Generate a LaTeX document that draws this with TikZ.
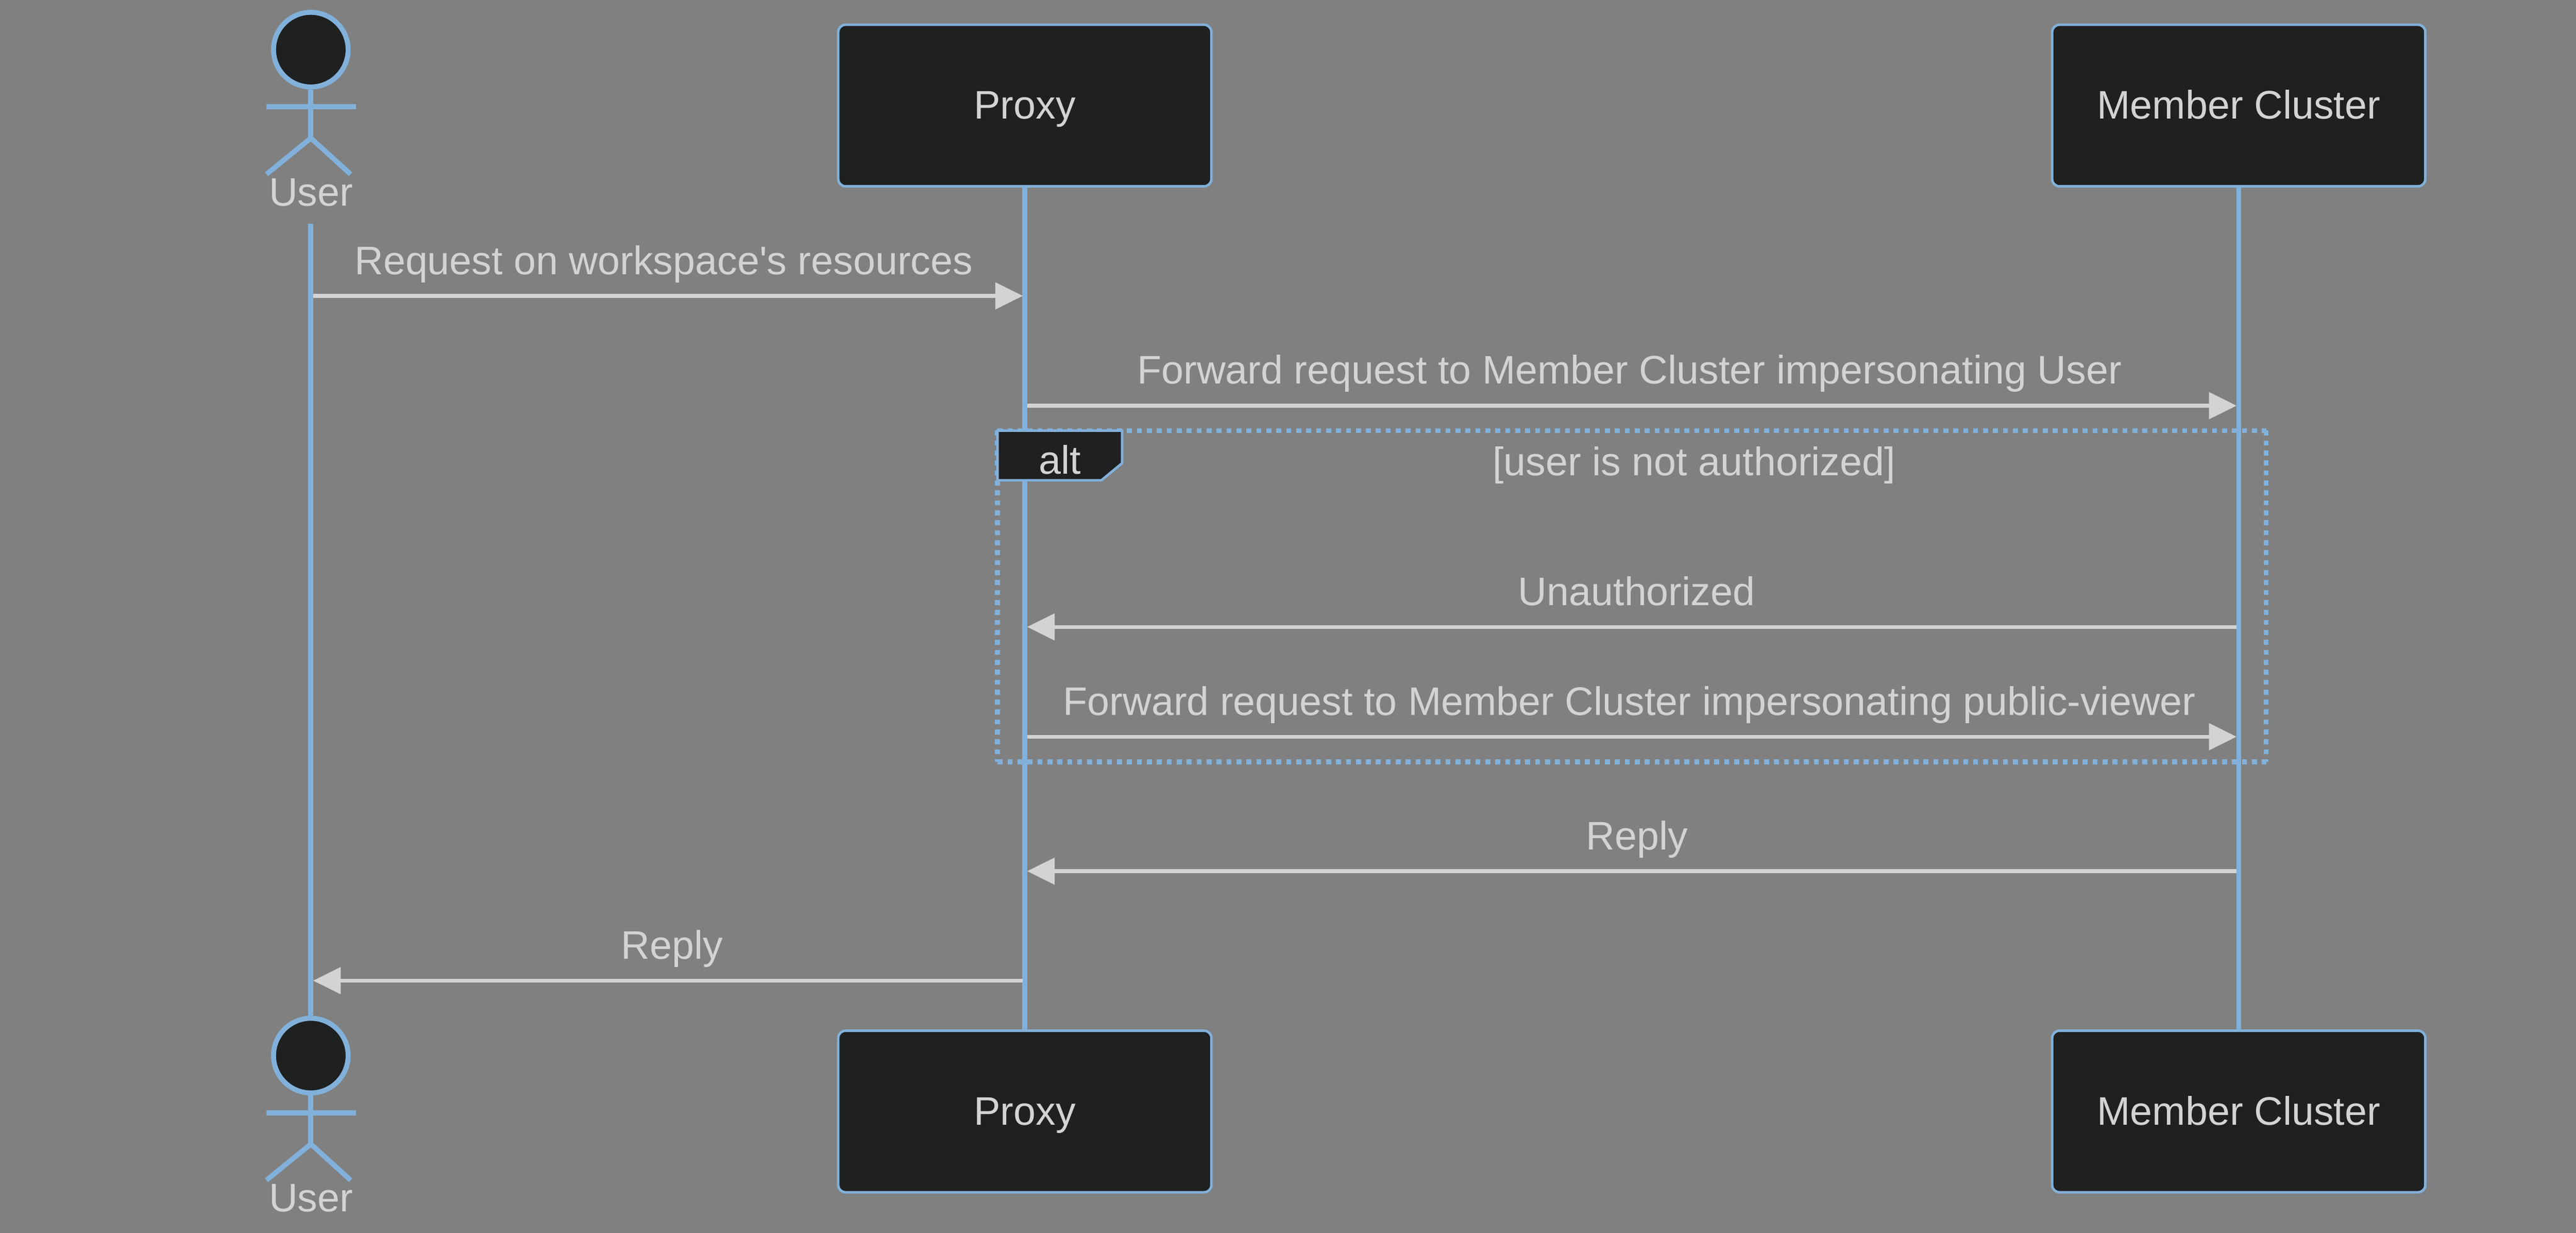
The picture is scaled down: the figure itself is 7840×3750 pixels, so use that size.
\documentclass[tikz,border=0pt]{standalone}
\usepackage{fontspec}
\setmainfont{Liberation Sans}
\usetikzlibrary{arrows.meta}
\definecolor{bgc}{HTML}{808080}
\definecolor{boxfill}{HTML}{1F2020}
\definecolor{blueline}{HTML}{81B1DB}
\definecolor{txt}{HTML}{D3D3D3}
\definecolor{msgc}{HTML}{D3D3D3}
\tikzset{
  partbox/.style={draw=blueline,fill=boxfill,line width=0.0757cm,rounded corners=0.22cm,minimum width=11.35cm,minimum height=4.91cm,inner sep=0pt,text=txt,font=\fontsize{34.45}{40}\selectfont,text height=1.0cm,text depth=0.18cm},
  actorhead/.style={circle,draw=blueline,fill=boxfill,line width=0.1514cm,minimum size=2.27cm,inner sep=0pt},
  limb/.style={draw=blueline,line width=0.1514cm},
  lifeln/.style={draw=blueline,line width=0.1514cm},
  lbl/.style={anchor=base,inner sep=0pt,text=txt,font=\fontsize{34.45}{40}\selectfont},
  framedot/.style={draw=blueline,line width=0.1514cm,dash pattern=on 0.1514cm off 0.1514cm},
  msg/.style={draw=msgc,line width=0.1135cm,-{Triangle[length=0.84cm,width=0.80cm,fill=msgc,color=msgc]}},
}
\begin{document}
\begin{tikzpicture}[x=0.01cm,y=-0.01cm]
\path[use as bounding box,fill=bgc] (0,0) rectangle (7840,3750);
% participants
\node[partbox] (pT) at (3119,321) {Proxy};
\node[partbox] (mT) at (6813.5,321) {Member Cluster};
\node[partbox] (pB) at (3119,3381) {Proxy};
\node[partbox] (mB) at (6813.5,3381) {Member Cluster};
% actors
\node[actorhead] (uH) at (946,151) {};
\node[actorhead] (uF) at (946,3211) {};
\coordinate (uHipT) at (946,420);
\coordinate (uArmLT) at (810,325);
\coordinate (uArmRT) at (1083,325);
\coordinate (uFootLT) at (811,530);
\coordinate (uFootRT) at (1067,530);
\draw[limb] (uH.south) -- (uHipT);
\draw[limb] (uArmLT) -- (uArmRT);
\draw[limb] (uFootLT) -- (uHipT) -- (uFootRT);
\coordinate (uHipB) at (946,3480);
\coordinate (uArmLB) at (810,3385);
\coordinate (uArmRB) at (1083,3385);
\coordinate (uFootLB) at (811,3590);
\coordinate (uFootRB) at (1067,3590);
\draw[limb] (uF.south) -- (uHipB);
\draw[limb] (uArmLB) -- (uArmRB);
\draw[limb] (uFootLB) -- (uHipB) -- (uFootRB);
\node[lbl] (uLT) at (946.5,626) {User};
\node[lbl] (uLB) at (946.5,3686) {User};
% lifelines
\coordinate (uStart) at (946,681);
\draw[lifeln] (uStart) -- (uF.north);
\draw[lifeln] (pT.south) -- (pB.north);
\draw[lifeln] (mT.south) -- (mB.north);
% frame
\coordinate (fTL) at (3036,1310);
\coordinate (fTR) at (6897,1310);
\coordinate (fBL) at (3036,2317);
\coordinate (fBR) at (6897,2317);
\draw[framedot] (fTL) -- (fTR);
\draw[framedot] (fTR) -- (fBR);
\draw[framedot] (fBL) -- (fBR);
\draw[framedot] (fTL) -- (fBL);
\draw[draw=blueline,fill=boxfill,line width=0.0757cm] (fTL) -- (3415,1310) -- (3415,1409) -- (3352,1461) -- (3036,1461) -- cycle;
\node[lbl] (altL) at (3226,1441) {alt};
\node[lbl] (cond) at (5156,1446) {[user is not authorized]};
% messages
\coordinate (a1) at (953,900); \coordinate (b1) at (3113,900);
\coordinate (a2) at (3126,1234); \coordinate (b2) at (6807,1234);
\coordinate (a3) at (6807,1907); \coordinate (b3) at (3126,1907);
\coordinate (a4) at (3126,2241); \coordinate (b4) at (6807,2241);
\coordinate (a5) at (6807,2650); \coordinate (b5) at (3126,2650);
\coordinate (a6) at (3112,2983); \coordinate (b6) at (953,2983);
\draw[msg] (a1) -- (b1);
\draw[msg] (a2) -- (b2);
\draw[msg] (a3) -- (b3);
\draw[msg] (a4) -- (b4);
\draw[msg] (a5) -- (b5);
\draw[msg] (a6) -- (b6);
\node[lbl] (t1) at (2020,835) {Request on workspace\textquotesingle s resources};
\node[lbl] (t2) at (4959,1168) {Forward request to Member Cluster impersonating User};
\node[lbl] (t3) at (4981,1842) {Unauthorized};
\node[lbl] (t4) at (4959,2175) {Forward request to Member Cluster impersonating public-viewer};
\node[lbl] (t5) at (4982,2585) {Reply};
\node[lbl] (t6) at (2045,2918) {Reply};
\end{tikzpicture}
\end{document}
